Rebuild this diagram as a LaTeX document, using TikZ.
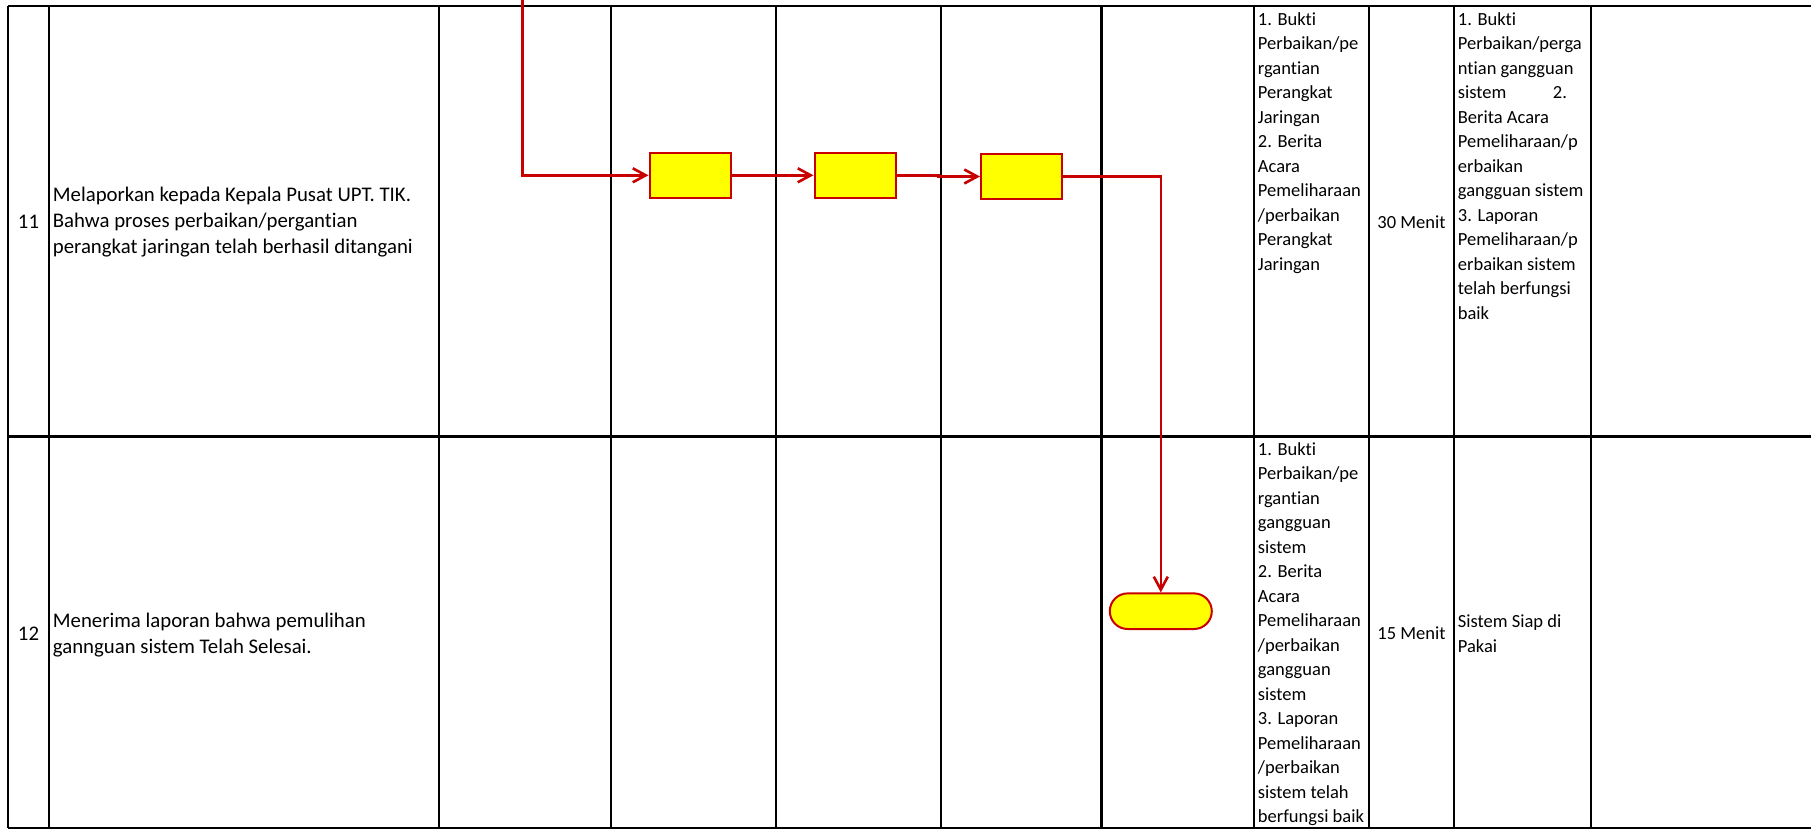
\documentclass[tikz,border=0pt]{standalone}
\usepackage{fontspec}
\setmainfont{Carlito}[Ligatures={NoCommon}]
\usetikzlibrary{arrows.meta,shapes.misc}
\definecolor{flowred}{RGB}{200,0,0}
\definecolor{boxyellow}{RGB}{255,255,0}
\tikzset{
  gridline/.style={line width=1.1pt, black},
  procbox/.style={draw=flowred, fill=boxyellow, line width=1pt, minimum width=40.5pt, minimum height=22.5pt, inner sep=0pt},
  termbox/.style={rounded rectangle, draw=flowred, fill=boxyellow, line width=1pt, minimum width=51pt, minimum height=17.8pt, inner sep=0pt},
  flow/.style={draw=flowred, line width=1.3pt, -{Straight Barb[length=6.5pt,width=7pt]}},
  maintext/.style={font=\fontsize{10.4pt}{13.2pt}\selectfont, align=left, inner sep=0pt},
  celltext/.style={font=\fontsize{9.25pt}{12.25pt}\selectfont, align=left, inner sep=0pt},
}
\begin{document}
\begin{tikzpicture}[x=0.5pt,y=-0.5pt]
\useasboundingbox (0,0) rectangle (1811,829);
% grid
\foreach \y in {6,436.5,828} \draw[gridline] (8,\y) -- (1811,\y);
\foreach \x in {8,49,439,611,776,941,1101.5,1254,1369,1454,1591} \draw[gridline] (\x,6) -- (\x,828);

% row 11 texts
\node[maintext] (n11) at (28.5,222) {11};
\node[maintext, anchor=west] (t11) at (52.5,222) {Melaporkan kepada Kepala Pusat UPT. TIK.\\Bahwa proses perbaikan/pergantian\\perangkat jaringan telah berhasil ditangani};
\node[celltext, anchor=north west] (d11) at (1257.5,12) {1. Bukti\\Perbaikan/pe\\rgantian\\Perangkat\\Jaringan\\2. Berita\\Acara\\Pemeliharaan\\/perbaikan\\Perangkat\\Jaringan};
\node[celltext] (w11) at (1411.5,222) {30 Menit};
\node[celltext, anchor=north west] (o11) at (1457.5,12) {1. Bukti\\Perbaikan/perga\\ntian gangguan\\\makebox[47.5pt][l]{sistem}2.\\Berita Acara\\Pemeliharaan/p\\erbaikan\\gangguan sistem\\3. Laporan\\Pemeliharaan/p\\erbaikan sistem\\telah berfungsi\\baik};

% row 12 texts
\node[maintext] (n12) at (28.5,634) {12};
\node[maintext, anchor=west] (t12) at (52.5,635) {Menerima laporan bahwa pemulihan\\gannguan sistem Telah Selesai.};
\node[celltext, anchor=north west] (d12) at (1257.5,442) {1. Bukti\\Perbaikan/pe\\rgantian\\gangguan\\sistem\\2. Berita\\Acara\\Pemeliharaan\\/perbaikan\\gangguan\\sistem\\3. Laporan\\Pemeliharaan\\/perbaikan\\sistem telah\\berfungsi baik};
\node[celltext] (w12) at (1411.5,633) {15 Menit};
\node[celltext, anchor=west] (o12) at (1457.5,633.5) {Sistem Siap di\\Pakai};

% flow shapes
\node[procbox] (b1) at (690,175.3) {};
\node[procbox] (b2) at (855,175.3) {};
\node[procbox] (b3) at (1021.5,176.5) {};
\node[termbox] (term) at (1160.8,611.2) {};

% connectors
\coordinate (start) at (522.7,0);
\coordinate (jog) at (938.7,175.3);
\draw[flow] (start) |- (b1.west);
\draw[flow] (b1.east) -- (b2.west);
\draw[flow] (b2.east) -- (jog) |- (b3.west);
\draw[flow] (b3.east) -| (term.north);
\end{tikzpicture}
\end{document}
